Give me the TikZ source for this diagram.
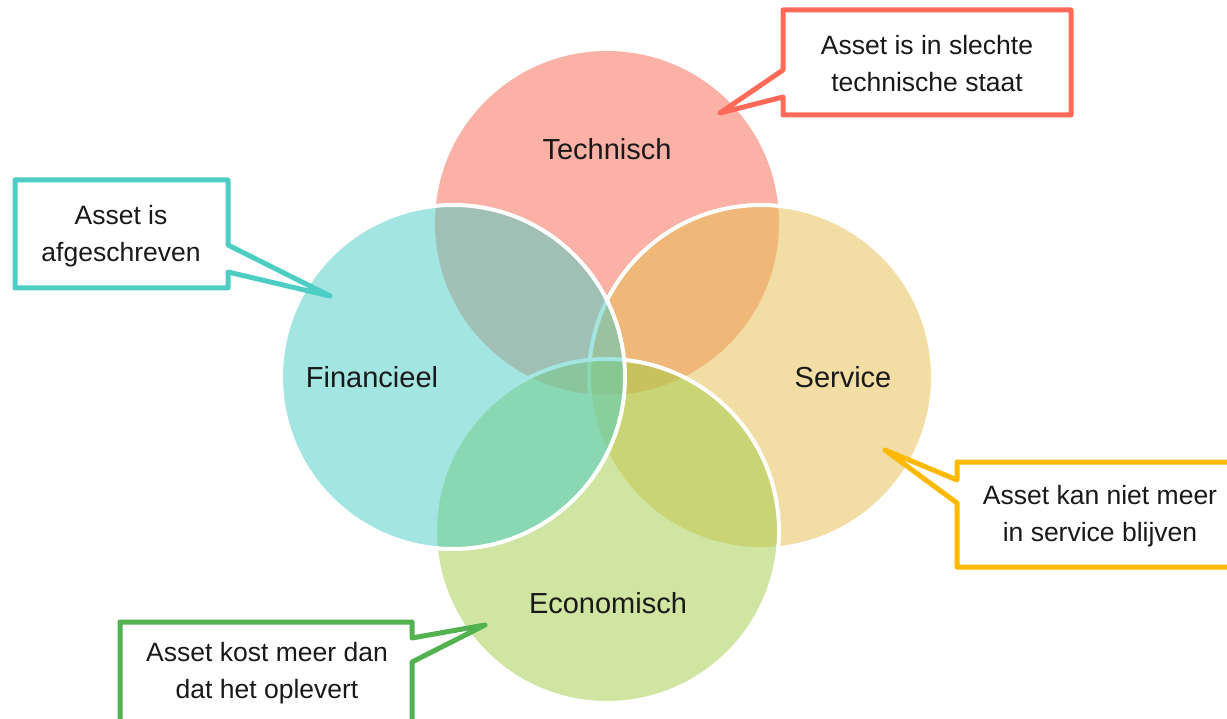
\documentclass[tikz,border=0pt]{standalone}
\usepackage{fontspec}
\setmainfont{Liberation Sans}
\definecolor{techc}{RGB}{249,101,79}
\definecolor{finc}{RGB}{71,205,197}
\definecolor{servc}{RGB}{231,191,75}
\definecolor{econc}{RGB}{161,205,69}
\definecolor{redl}{RGB}{255,107,88}
\definecolor{cyanl}{RGB}{78,205,196}
\definecolor{yell}{RGB}{252,185,0}
\definecolor{grnl}{RGB}{82,178,80}
\definecolor{txt}{RGB}{25,25,25}
\begin{document}
\begin{tikzpicture}[x=1pt,y=-1pt,
  venn/.style={fill=#1,fill opacity=0.5},
  rim/.style={draw=white,line width=4pt},
  callout/.style={draw=#1,fill=white,line width=5pt,line join=round},
  lbl/.style={text=txt,font=\fontsize{29}{34}\selectfont,inner sep=0pt},
  ctext/.style={text=txt,font=\fontsize{26.5}{37}\selectfont,align=center,inner sep=0pt}]
\useasboundingbox (0,0) rectangle (1227,719);
\clip (0,0) rectangle (1227,719);
\fill[white] (0,0) rectangle (1227,719);
% circles
\coordinate (ct) at (607,223);
\coordinate (cs) at (761,377);
\coordinate (ce) at (607,531);
\coordinate (cf) at (453,377);
\fill[venn=techc] (ct) circle[radius=172];
\fill[venn=servc] (cs) circle[radius=172];
\draw[rim] (cs) circle[radius=172];
\fill[venn=econc] (ce) circle[radius=172];
\draw[rim] (ce) circle[radius=172];
\fill[venn=finc] (cf) circle[radius=172];
\draw[rim] (cf) circle[radius=172];
% labels
\node[lbl] (tech) at (607,149) {Technisch};
\node[lbl] (fin) at (372,377) {Financieel};
\node[lbl] (serv) at (843,377) {Service};
\node[lbl] (econ) at (608,603) {Economisch};
% callouts
\draw[callout=redl] (783,10) -- (1071,10) -- (1071,115) -- (783,115) -- (783,97) -- (720,113) -- (783,70) -- cycle;
\node[ctext] (ct1) at (927,64) {Asset is in slechte\\technische staat};
\draw[callout=cyanl] (15,180) -- (228,180) -- (228,245) -- (330,296) -- (228,272) -- (228,288) -- (15,288) -- cycle;
\node[ctext] (cf1) at (121,236) {Asset is\\afgeschreven};
\draw[callout=yell] (957,462) -- (1240,462) -- (1240,567) -- (957,567) -- (957,503) -- (885,450) -- (957,480) -- cycle;
\node[ctext] (cs1) at (1100,516) {Asset kan niet meer\\in service blijven};
\draw[callout=grnl] (120,740) -- (120,622) -- (412,622) -- (412,638) -- (485,625) -- (412,662) -- (412,740) -- cycle;
\node[ctext] (ce1) at (267,673) {Asset kost meer dan\\dat het oplevert};
\end{tikzpicture}
\end{document}
